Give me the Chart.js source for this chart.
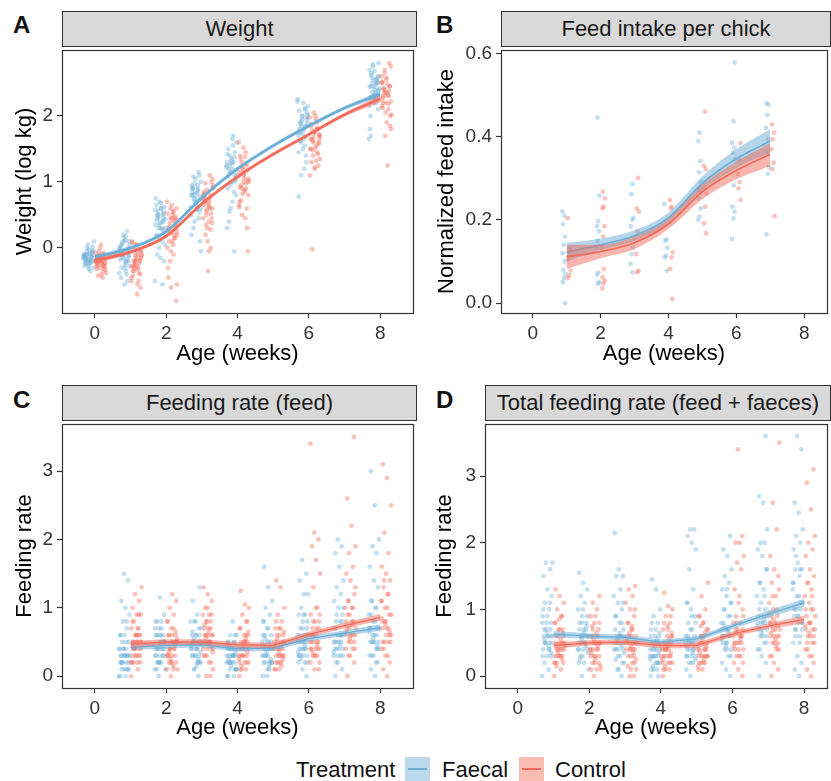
<!DOCTYPE html>
<html>
<head>
<meta charset="utf-8">
<script src="https://cdn.jsdelivr.net/npm/chart.js@4.4.0/dist/chart.umd.min.js"></script>
<style>
    body { margin: 0; background: #fff; font-family: "Liberation Sans", Arial, sans-serif; }
    #fig { position: relative; width: 831px; height: 781px; overflow: hidden; }
    .strip { position: absolute; box-sizing: border-box; background: #d9d9d9; border: 1px solid #333;
             font-size: 22px; line-height: 34px; color: #1a1a1a; text-align: center; white-space: nowrap; }
    .tag { position: absolute; font-weight: bold; font-size: 24px; line-height: 24px; color: #111; }
    canvas { position: absolute; }
    .leg { position: absolute; top: 757px; font-size: 22px; line-height: 26px; color: #111; }
    .key { position: absolute; top: 757px; width: 25px; height: 24px; }
    .key div { position: absolute; left: 3px; right: 3px; top: 11px; height: 2px; }
</style>
</head>
<body>
<div id="fig">
    <div class="tag" style="left:13px;top:13px">A</div>
    <div class="tag" style="left:436px;top:13px">B</div>
    <div class="tag" style="left:13px;top:388px">C</div>
    <div class="tag" style="left:436px;top:388px">D</div>

    <div class="strip" style="left:62px;top:11px;width:355px;height:36px">Weight</div>
    <div class="strip" style="left:501px;top:11px;width:330px;height:36px">Feed intake per chick</div>
    <div class="strip" style="left:62px;top:385px;width:355px;height:36px">Feeding rate (feed)</div>
    <div class="strip" style="left:485px;top:385px;width:346px;height:36px">Total feeding rate (feed + faeces)</div>

    <canvas id="weightChart" width="417" height="324" style="left:0;top:46px"></canvas>
    <canvas id="feedChart" width="411" height="324" style="left:420px;top:46px"></canvas>
    <canvas id="rateChart" width="417" height="324" style="left:0;top:420px"></canvas>
    <canvas id="totalChart" width="411" height="324" style="left:420px;top:420px"></canvas>

    <div class="leg" style="left:296px">Treatment</div>
    <div class="key" style="left:405px;background:rgba(107,174,214,0.45)"><div style="background:#6baed6"></div></div>
    <div class="leg" style="left:442px">Faecal</div>
    <div class="key" style="left:519px;background:rgba(242,107,91,0.45)"><div style="background:#f26b5b"></div></div>
    <div class="leg" style="left:555px">Control</div>
</div>

<script>
// ---- Panel A: weight (log kg), one list of birds per week ----
const weightWeeks = [0, 1, 2, 3, 4, 6, 8];
const weightFaecal = [
    [-0.15,-0.1,-0.2,-0.05,-0.25,-0.12,-0.18,0.0,-0.3,-0.08,-0.22,-0.14,0.05,-0.16,-0.35,-0.1,-0.2,-0.02,-0.27,-0.13,-0.06,0.1,-0.19,-0.24,-0.11,
     -0.17,-0.09,-0.21,-0.13,-0.04,-0.28,-0.16,-0.07,-0.19,-0.11,-0.23,-0.15,0.02,-0.32,-0.12],
    [-0.1,0.05,-0.2,-0.3,0.0,0.15,-0.05,-0.4,-0.15,0.1,-0.25,-0.1,-0.5,0.2,-0.02,-0.35,0.05,-0.12,-0.55,-0.18,0.25,-0.08,-0.28,0.12,-0.45,
     -0.06,-0.15,0.0,-0.22,0.08,-0.12,-0.3,0.03,-0.18,-0.04,-0.38,0.18,-0.1,-0.2,0.1],
    [0.4,0.5,0.3,0.6,0.2,0.45,0.7,0.35,0.1,0.55,0.25,-0.15,0.65,0.4,0.0,-0.5,0.3,0.5,-0.2,0.15,0.75,-0.55,0.45,0.05,0.6,
     0.42,0.52,0.35,0.58,0.28,0.48,0.62,0.38,0.18,0.5,0.3,0.44,0.68,-0.1,0.55],
    [0.8,0.9,0.7,1.0,0.6,0.85,1.1,0.75,0.5,0.95,0.3,0.1,0.65,0.8,1.15,0.4,-0.05,0.7,0.9,0.55,1.05,0.2,0.85,0.75,0.6,
     0.82,0.92,0.72,0.98,0.62,0.88,1.08,0.78,0.68,0.95,0.45,0.82,0.74,0.58,0.9],
    [1.15,1.3,1.0,1.4,0.8,1.2,1.5,1.1,0.6,1.25,1.7,0.4,1.05,1.35,0.9,-0.05,1.15,1.6,0.7,1.2,1.45,1.0,0.3,1.3,0.55,
     1.18,1.28,1.08,1.38,0.95,1.22,1.55,1.12,1.02,1.32,1.42,0.85,1.25,1.1,1.65],
    [1.85,2.0,1.7,2.1,1.6,1.9,2.2,1.8,1.4,1.95,2.25,1.2,1.75,2.05,1.5,0.78,1.85,1.1,2.15,1.65,1.9,1.3,2.0,1.75,1.55,
     1.88,1.98,1.78,2.08,1.68,1.92,2.22,1.82,1.62,1.95,1.72,1.45,2.12,1.85,2.02],
    [2.45,2.6,2.3,2.7,2.2,2.5,2.8,2.4,2.0,2.55,2.75,1.65,2.35,2.65,2.1,2.45,1.8,2.5,2.3,2.6,2.25,1.7,2.4,2.55,2.15,
     2.48,2.58,2.38,2.68,2.28,2.52,2.78,2.42,2.32,2.62,2.5,2.2,2.44,2.56,2.36]
];
const weightControl = [
    [-0.2,-0.25,-0.15,-0.3,-0.1,-0.22,-0.35,-0.05,-0.18,-0.4,-0.12,-0.28,0.0,-0.2,-0.45,-0.16,-0.24,0.05,-0.32,-0.08,-0.2,-0.38,-0.14,-0.26,-0.1,
     -0.22,-0.18,-0.27,-0.12,-0.33,-0.2,-0.24,-0.15,-0.3,-0.08,-0.19,-0.42,-0.23,-0.13,-0.28],
    [-0.2,-0.1,-0.3,0.0,-0.4,-0.15,0.1,-0.5,-0.25,-0.05,-0.7,-0.35,-0.2,0.05,-0.45,-0.1,-0.3,-0.6,-0.18,0.08,-0.38,-0.22,-0.12,-0.55,-0.28,
     -0.18,-0.08,-0.28,-0.02,-0.35,-0.15,0.05,-0.42,-0.24,-0.12,-0.5,-0.32,-0.2,-0.05,-0.27],
    [0.3,0.45,0.2,0.55,0.1,0.35,0.65,0.0,0.4,-0.2,0.25,0.5,-0.45,0.15,-0.6,0.7,-0.1,0.3,-0.8,0.45,-0.3,0.2,0.6,-0.55,0.05,
     0.32,0.42,0.22,0.52,0.15,0.38,0.6,0.1,0.28,0.48,-0.05,0.35,0.55,0.25,0.45],
    [0.65,0.8,0.5,0.9,0.4,0.7,1.0,0.3,0.75,1.1,0.2,0.6,-0.35,0.85,0.0,0.55,0.95,-0.05,0.7,0.45,0.1,0.8,0.6,0.35,1.05,
     0.62,0.78,0.52,0.88,0.45,0.72,0.98,0.38,0.68,0.82,0.28,0.58,0.92,0.65,0.75],
    [1.0,1.15,0.9,1.3,0.8,1.05,1.4,0.6,1.2,1.6,0.45,0.95,-0.05,1.1,0.7,1.25,0.5,1.0,0.85,1.35,0.3,1.15,0.65,1.45,0.9,
     1.02,1.12,0.92,1.28,0.82,1.08,1.38,0.72,1.18,1.52,0.62,0.98,1.22,1.05,0.88],
    [1.6,1.75,1.5,1.9,1.4,1.65,2.0,1.3,1.8,2.05,1.1,1.55,-0.02,1.7,1.2,1.85,1.45,1.6,1.35,1.95,1.65,1.25,1.75,1.5,1.8,
     1.62,1.72,1.52,1.88,1.42,1.68,1.98,1.32,1.78,1.58,1.22,1.65,1.82,1.48,1.7],
    [2.3,2.45,2.2,2.6,2.1,2.35,2.75,1.9,2.5,2.8,1.7,2.25,1.25,2.4,2.0,2.55,2.15,2.3,2.65,1.8,2.35,2.2,2.45,2.05,2.5,
     2.32,2.42,2.22,2.58,2.12,2.38,2.7,2.02,2.48,2.28,1.85,2.35,2.52,2.18,2.4]
];
const weightFitX = [0, 1, 2, 3, 4, 5, 6, 7, 8];
const weightFitFaecal = [-0.14, 0.0, 0.25, 0.76, 1.2, 1.55, 1.85, 2.12, 2.33];
const weightHiFaecal  = [-0.10, 0.03, 0.28, 0.79, 1.23, 1.58, 1.88, 2.15, 2.38];
const weightLoFaecal  = [-0.18, -0.03, 0.22, 0.73, 1.17, 1.52, 1.82, 2.09, 2.28];
const weightFitControl = [-0.19, -0.06, 0.18, 0.67, 1.08, 1.42, 1.72, 2.02, 2.26];
const weightHiControl  = [-0.15, -0.03, 0.21, 0.70, 1.11, 1.45, 1.75, 2.05, 2.31];
const weightLoControl  = [-0.23, -0.09, 0.15, 0.64, 1.05, 1.39, 1.69, 1.99, 2.21];
const weightTicks = [0, 1, 2];

// ---- Panel B: normalized feed intake per chick ----
const feedWeeks = [1, 2, 3, 4, 5, 6, 7];
const feedFaecal = [
    [0.22,0.21,0.19,0.16,0.14,0.12,0.10,0.08,0.07,0.06,0.05,0.0],
    [0.446,0.258,0.197,0.185,0.173,0.15,0.133,0.074,0.068,0.05,0.047],
    [0.286,0.262,0.205,0.2,0.185,0.133,0.118,0.094,0.074],
    [0.238,0.153,0.15,0.133,0.114,0.11,0.078],
    [0.41,0.39,0.342,0.315,0.292,0.272,0.252,0.228,0.208,0.2],
    [0.579,0.438,0.386,0.374,0.362,0.346,0.283,0.232,0.22,0.204,0.154],
    [0.481,0.477,0.453,0.421,0.394,0.362,0.327,0.311,0.165]
];
const feedControl = [
    [0.204,0.13,0.106,0.078,0.067,0.06],
    [0.268,0.252,0.232,0.228,0.185,0.16,0.133,0.082,0.062,0.054,0.047,0.035],
    [0.301,0.228,0.22,0.173,0.118,0.078,0.074],
    [0.248,0.232,0.228,0.122,0.11,0.082,0.01],
    [0.461,0.33,0.322,0.28,0.264,0.232,0.192,0.168],
    [0.385,0.346,0.31,0.291,0.276,0.248],
    [0.43,0.41,0.394,0.37,0.338,0.322,0.209]
];
const feedFitX = [1, 2, 3, 4, 5, 6, 7];
const feedFitFaecal = [0.122, 0.14, 0.162, 0.205, 0.288, 0.347, 0.39];
const feedHiFaecal  = [0.145, 0.155, 0.175, 0.218, 0.305, 0.37, 0.418];
const feedLoFaecal  = [0.10, 0.128, 0.150, 0.192, 0.272, 0.325, 0.362];
const feedFitControl = [0.111, 0.124, 0.145, 0.19, 0.268, 0.319, 0.358];
const feedHiControl  = [0.14, 0.14, 0.16, 0.203, 0.285, 0.34, 0.385];
const feedLoControl  = [0.082, 0.108, 0.13, 0.178, 0.25, 0.298, 0.33];
const feedTicks = [0, 0.2, 0.4, 0.6];

// ---- Panel C: feeding rate (feed) ----
const rateWeeks = [1, 2, 3, 4, 5, 6, 7, 8];
const rateFaecal = [
    [0,0,0.1,0.1,0.1,0.2,0.2,0.2,0.3,0.3,0.3,0.3,0.4,0.4,0.4,0.5,0.5,0.6,0.6,0.7,0.8,0.9,1.0,1.1,1.4,1.5,
     0,0.1,0.2,0.2,0.3,0.3,0.3,0.4,0.4,0.5,0.2,0.1,0.3,0.6,0.8],
    [0,0.1,0.2,0.2,0.3,0.3,0.4,0.4,0.4,0.5,0.5,0.6,0.6,0.7,0.7,0.8,0.8,0.9,1.15,0.3,0.5,0.2,0.4,0.6,0.1,0.5,
     0.2,0.3,0.4,0.4,0.5,0.5,0.6,0.3,0.2,0.1,0.7,0.4,0.5,0.6,0.8],
    [0,0.1,0.2,0.2,0.3,0.3,0.4,0.4,0.5,0.5,0.5,0.6,0.6,0.7,0.8,0.8,0.9,1.1,1.3,0.3,0.45,0.25,0.55,0.35,0.15,0.65,
     0.2,0.3,0.4,0.4,0.5,0.5,0.6,0.3,0.2,0.1,0.7,0.4,0.5,0.6,0.8],
    [0,0,0.1,0.1,0.2,0.2,0.2,0.3,0.3,0.3,0.4,0.4,0.4,0.5,0.5,0.6,0.6,0.8,0.25,0.35,0.15,0.45,0.3,0.2,0.1,0.4,
     0,0.1,0.2,0.2,0.3,0.3,0.3,0.4,0.4,0.5,0.2,0.1,0.3,0.5,0.6],
    [0,0,0.1,0.2,0.2,0.3,0.3,0.4,0.4,0.5,0.5,0.6,0.6,0.7,0.8,0.9,1.0,1.1,1.3,1.6,0.25,0.35,0.45,0.15,0.55,0.2,
     0.1,0.2,0.2,0.3,0.3,0.4,0.4,0.5,0.5,0.6,0.2,0.3,0.4,0.7,0.8],
    [0,0.1,0.2,0.2,0.3,0.3,0.4,0.4,0.5,0.5,0.6,0.6,0.7,0.7,0.8,0.9,0.9,1.0,1.2,1.2,1.4,1.5,1.7,0.35,0.45,0.25,
     0.2,0.3,0.3,0.4,0.4,0.5,0.5,0.6,0.6,0.7,0.3,0.4,0.5,0.8,0.9],
    [0,0.1,0.2,0.3,0.3,0.4,0.4,0.5,0.5,0.6,0.6,0.7,0.8,0.8,0.9,1.0,1.1,1.2,1.3,1.4,1.6,1.8,1.9,2.0,0.35,0.45,
     0.2,0.3,0.4,0.4,0.5,0.5,0.6,0.6,0.7,0.8,0.3,0.5,0.6,0.9,1.0],
    [0,0.1,0.2,0.3,0.3,0.4,0.5,0.5,0.6,0.7,0.7,0.8,0.9,1.0,1.1,1.3,1.4,1.6,1.8,1.9,2.0,2.5,3.0,0.45,0.55,0.65,
     0.2,0.3,0.4,0.5,0.5,0.6,0.6,0.7,0.8,0.9,0.4,0.5,0.7,1.0,1.1]
];
const rateControl = [
    [0,0.1,0.2,0.2,0.3,0.3,0.4,0.4,0.5,0.5,0.5,0.6,0.6,0.7,0.7,0.8,0.9,0.9,1.0,1.1,1.2,1.3,0.2,0.4,0.3,0.6,
     0.2,0.3,0.4,0.4,0.5,0.5,0.6,0.3,0.2,0.7,0.4,0.5,0.6,0.8,0.9],
    [0,0.1,0.1,0.2,0.2,0.3,0.3,0.4,0.4,0.5,0.5,0.6,0.6,0.7,0.8,0.9,1.0,1.1,1.2,0.3,0.45,0.25,0.55,0.15,0.35,0.65,
     0.2,0.3,0.4,0.4,0.5,0.5,0.6,0.3,0.2,0.1,0.7,0.4,0.5,0.6,0.8],
    [0,0,0.1,0.2,0.3,0.4,0.4,0.5,0.5,0.6,0.6,0.7,0.7,0.8,0.8,0.9,0.9,1.0,1.1,1.2,1.3,0.45,0.55,0.35,0.65,0.75,
     0.2,0.3,0.4,0.5,0.5,0.6,0.6,0.3,0.7,0.8,0.4,0.5,0.6,0.9,1.0],
    [0,0.1,0.1,0.2,0.2,0.3,0.3,0.4,0.4,0.5,0.5,0.6,0.6,0.7,0.8,0.9,1.0,1.05,1.25,0.35,0.45,0.25,0.55,0.15,0.65,0.3,
     0.1,0.2,0.3,0.3,0.4,0.4,0.5,0.5,0.2,0.6,0.3,0.4,0.5,0.7,0.8],
    [0.1,0.1,0.2,0.2,0.3,0.3,0.3,0.4,0.4,0.5,0.5,0.6,0.6,0.7,0.7,0.8,0.9,1.0,1.3,1.4,0.25,0.35,0.45,0.15,0.55,0.65,
     0.2,0.2,0.3,0.3,0.4,0.4,0.5,0.5,0.6,0.1,0.3,0.4,0.5,0.7,0.8],
    [0.1,0.1,0.2,0.3,0.3,0.4,0.4,0.5,0.5,0.6,0.6,0.7,0.7,0.8,0.8,0.9,1.0,1.3,1.5,1.7,1.9,2.0,2.1,3.4,0.45,0.35,
     0.2,0.3,0.4,0.4,0.5,0.5,0.6,0.6,0.7,0.3,0.4,0.5,0.8,0.9,1.0],
    [0,0.2,0.3,0.4,0.4,0.5,0.6,0.6,0.7,0.8,0.9,1.0,1.0,1.1,1.2,1.4,1.5,1.6,1.8,1.9,2.2,2.6,3.5,0.55,0.65,0.75,
     0.3,0.4,0.5,0.6,0.6,0.7,0.7,0.8,0.9,0.5,0.6,0.8,1.0,1.1,1.3],
    [0,0.1,0.2,0.3,0.4,0.5,0.5,0.6,0.7,0.8,0.9,1.0,1.1,1.2,1.3,1.4,1.5,1.6,1.8,2.1,2.5,2.9,3.1,0.65,0.75,0.85,
     0.3,0.4,0.5,0.6,0.7,0.7,0.8,0.9,1.0,0.5,0.6,0.8,1.1,1.2,1.4]
];
const rateFitX = [1, 2, 3, 4, 5, 6, 7, 8];
const rateFitFaecal = [0.42, 0.45, 0.46, 0.40, 0.41, 0.55, 0.63, 0.71];
const rateHiFaecal  = [0.46, 0.49, 0.50, 0.44, 0.45, 0.59, 0.67, 0.76];
const rateLoFaecal  = [0.38, 0.41, 0.42, 0.36, 0.37, 0.51, 0.59, 0.66];
const rateFitControl = [0.47, 0.50, 0.50, 0.46, 0.45, 0.61, 0.74, 0.86];
const rateHiControl  = [0.52, 0.54, 0.54, 0.50, 0.49, 0.65, 0.78, 0.91];
const rateLoControl  = [0.42, 0.46, 0.46, 0.42, 0.41, 0.57, 0.70, 0.81];
const rateTicks = [0, 1, 2, 3];

// ---- Panel D: total feeding rate (feed + faeces) ----
const totalWeeks = [1, 2, 3, 4, 5, 6, 7, 8];
const totalFaecal = [
    [0,0.1,0.2,0.3,0.3,0.4,0.5,0.5,0.6,0.6,0.7,0.8,0.8,0.9,1.0,1.1,1.2,1.3,1.5,1.6,1.7,1.7,0.45,0.55,0.35,0.65,
     0.3,0.4,0.5,0.5,0.6,0.6,0.7,0.7,0.8,0.4,0.5,0.6,0.9,1.0,1.1],
    [0,0.1,0.2,0.3,0.4,0.4,0.5,0.5,0.6,0.6,0.7,0.8,0.8,0.9,1.0,1.1,1.2,1.3,1.4,1.55,0.45,0.55,0.35,0.65,0.25,0.75,
     0.3,0.4,0.5,0.5,0.6,0.6,0.7,0.7,0.8,0.4,0.5,0.6,0.9,1.0,0.2],
    [0,0.1,0.2,0.3,0.4,0.4,0.5,0.5,0.6,0.6,0.7,0.8,0.9,1.0,1.1,1.2,1.3,1.5,1.5,1.6,2.15,0.45,0.55,0.35,0.65,0.25,
     0.2,0.3,0.4,0.5,0.5,0.6,0.6,0.7,0.8,0.4,0.5,0.6,0.9,1.1,0.1],
    [0,0.1,0.1,0.2,0.2,0.3,0.3,0.4,0.4,0.5,0.5,0.6,0.6,0.7,0.8,0.9,1.0,1.3,1.45,0.35,0.45,0.25,0.55,0.15,0.65,0.3,
     0.1,0.2,0.3,0.3,0.4,0.4,0.5,0.5,0.6,0.2,0.3,0.4,0.7,0.8,0.0],
    [0,0.1,0.2,0.2,0.3,0.3,0.4,0.5,0.5,0.6,0.7,0.8,0.9,1.0,1.1,1.3,1.6,1.9,2.0,2.1,2.2,2.2,0.45,0.35,0.55,0.25,
     0.2,0.3,0.4,0.4,0.5,0.5,0.6,0.6,0.7,0.3,0.4,0.5,0.8,0.9,1.1],
    [0,0.1,0.2,0.3,0.4,0.4,0.5,0.6,0.6,0.7,0.8,0.9,1.0,1.1,1.2,1.3,1.4,1.5,1.6,1.8,1.9,2.1,0.45,0.55,0.65,0.75,
     0.3,0.4,0.5,0.6,0.6,0.7,0.7,0.8,0.9,0.5,0.6,0.7,1.0,1.1,1.3],
    [0,0.2,0.3,0.4,0.5,0.6,0.7,0.8,0.9,1.0,1.1,1.2,1.3,1.4,1.6,1.8,1.9,2.0,2.0,2.2,2.6,2.7,3.6,0.65,0.75,0.85,
     0.4,0.5,0.6,0.7,0.8,0.8,0.9,0.9,1.0,0.6,0.7,0.8,1.2,1.4,1.6],
    [0,0.1,0.2,0.3,0.5,0.6,0.7,0.8,0.9,1.0,1.1,1.2,1.4,1.5,1.6,1.6,1.7,1.9,2.0,2.1,2.2,2.45,2.6,3.4,3.6,1.3,
     0.5,0.6,0.7,0.8,0.9,1.0,1.0,1.1,1.2,0.7,0.8,0.9,1.4,1.6,1.8]
];
const totalControl = [
    [0,0.1,0.2,0.2,0.3,0.3,0.4,0.4,0.5,0.5,0.6,0.7,0.7,0.8,0.9,1.0,1.1,1.2,1.3,0.25,0.35,0.45,0.55,0.15,0.65,0.85,
     0.2,0.3,0.3,0.4,0.4,0.5,0.5,0.6,0.2,0.3,0.4,0.6,0.7,0.8,0.9],
    [0,0.1,0.1,0.2,0.3,0.3,0.4,0.4,0.5,0.5,0.6,0.6,0.7,0.8,0.9,1.0,1.1,1.2,0.25,0.35,0.45,0.55,0.15,0.65,0.75,0.2,
     0.2,0.3,0.4,0.4,0.5,0.5,0.6,0.6,0.3,0.4,0.5,0.7,0.8,0.9,0.1],
    [0,0,0.1,0.2,0.3,0.4,0.4,0.5,0.5,0.6,0.6,0.7,0.8,0.9,1.0,1.1,1.2,1.3,1.35,0.45,0.55,0.35,0.65,0.25,0.75,0.15,
     0.2,0.3,0.4,0.4,0.5,0.5,0.6,0.6,0.3,0.4,0.5,0.7,0.8,1.0,0.1],
    [0,0.1,0.1,0.2,0.2,0.3,0.3,0.4,0.4,0.5,0.5,0.6,0.6,0.7,0.8,0.9,1.0,1.05,1.25,0.35,0.45,0.25,0.55,0.15,0.65,0.75,
     0.1,0.2,0.3,0.3,0.4,0.4,0.5,0.5,0.2,0.3,0.4,0.6,0.7,0.8,0.9],
    [0.1,0.1,0.2,0.2,0.3,0.3,0.4,0.4,0.5,0.5,0.6,0.6,0.7,0.8,0.9,1.0,1.2,1.4,0.25,0.35,0.45,0.55,0.15,0.65,0.75,0.3,
     0.2,0.2,0.3,0.3,0.4,0.4,0.5,0.5,0.6,0.3,0.4,0.6,0.7,0.8,0.9],
    [0,0.1,0.2,0.3,0.3,0.4,0.5,0.5,0.6,0.7,0.8,0.8,0.9,1.0,1.1,1.3,1.6,1.7,1.8,2.0,2.0,2.1,3.4,0.45,0.55,0.65,
     0.2,0.3,0.4,0.5,0.5,0.6,0.6,0.7,0.7,0.4,0.5,0.6,0.8,0.9,1.2],
    [0,0.1,0.2,0.3,0.4,0.5,0.6,0.7,0.8,0.9,1.0,1.1,1.2,1.4,1.5,1.6,1.8,2.2,2.6,3.5,0.55,0.65,0.75,0.85,0.95,0.45,
     0.3,0.4,0.5,0.6,0.6,0.7,0.7,0.8,0.9,0.5,0.6,0.8,1.0,1.2,1.3],
    [0,0.1,0.2,0.3,0.4,0.5,0.6,0.7,0.8,0.9,1.0,1.1,1.2,1.3,1.4,1.5,1.6,1.8,1.9,2.0,2.1,2.5,2.9,3.1,0.65,0.75,
     0.3,0.4,0.5,0.6,0.7,0.7,0.8,0.9,1.0,0.5,0.6,0.8,1.0,1.2,1.4]
];
const totalFitX = [1, 2, 3, 4, 5, 6, 7, 8];
const totalFitFaecal = [0.63, 0.60, 0.58, 0.51, 0.56, 0.75, 0.93, 1.10];
const totalHiFaecal  = [0.68, 0.64, 0.62, 0.55, 0.60, 0.79, 0.98, 1.16];
const totalLoFaecal  = [0.58, 0.56, 0.54, 0.47, 0.52, 0.71, 0.88, 1.04];
const totalFitControl = [0.46, 0.50, 0.51, 0.46, 0.46, 0.63, 0.75, 0.85];
const totalHiControl  = [0.51, 0.54, 0.55, 0.50, 0.50, 0.67, 0.79, 0.91];
const totalLoControl  = [0.41, 0.46, 0.47, 0.42, 0.42, 0.59, 0.71, 0.79];
const totalTicks = [0, 1, 2, 3];

const ageTicks = [0, 2, 4, 6, 8];

// Colours
const BLUE = '#6baed6';
const RED = '#f26b5b';
const BLUE_PT = 'rgba(107,174,214,0.4)';
const RED_PT = 'rgba(242,107,91,0.4)';
const BLUE_BAND = 'rgba(107,174,214,0.5)';
const RED_BAND = 'rgba(242,107,91,0.5)';

Chart.defaults.font.family = '"Liberation Sans", Arial, sans-serif';

// Dodge each group left/right of its week and spread the birds a little (jitter)
function jitter(weeks, lists, shift, spread) {
    const pts = [];
    weeks.forEach((w, k) => {
        lists[k].forEach((v, i) => {
            const j = ((i * 0.6180339 + k * 0.37) % 1) - 0.5;
            pts.push({ x: w + shift + j * 2 * spread, y: v });
        });
    });
    return pts;
}

function xy(xs, ys) {
    return xs.map((x, i) => ({ x: x, y: ys[i] }));
}

// Box around the plotting area (ggplot panel border)
const panelBorder = {
    id: 'panelBorder',
    afterDraw(chart) {
        const a = chart.chartArea;
        const ctx = chart.ctx;
        ctx.save();
        ctx.strokeStyle = '#333';
        ctx.lineWidth = 1.2;
        ctx.strokeRect(Math.round(a.left) + 0.5, Math.round(a.top) + 0.5,
            Math.round(a.right - a.left), Math.round(a.bottom - a.top));
        ctx.restore();
    }
};

function makePanel(id, p) {
    const smooth = p.smooth ? { tension: 0.4, cubicInterpolationMode: 'monotone' } : { tension: 0 };
    const band = (ys, color, order) => Object.assign({
        type: 'scatter', data: xy(p.fitX, ys), showLine: true, pointRadius: 0,
        borderWidth: 0, backgroundColor: color, order: order
    }, smooth);

    const datasets = [
        { type: 'scatter', data: jitter(p.weeks, p.faecal, -p.dodge, p.spread), pointRadius: 2.4,
          pointBorderWidth: 0, backgroundColor: BLUE_PT, order: 60 },
        { type: 'scatter', data: jitter(p.weeks, p.control, p.dodge, p.spread), pointRadius: 2.4,
          pointBorderWidth: 0, backgroundColor: RED_PT, order: 50 },
        Object.assign(band(p.hiF, BLUE_BAND, 40), { fill: '+1' }),
        Object.assign(band(p.loF, BLUE_BAND, 40), { fill: false }),
        Object.assign({ type: 'scatter', data: xy(p.fitX, p.fitF), showLine: true, pointRadius: 0,
          borderColor: BLUE, borderWidth: p.lineWidth, order: 30 }, smooth),
        Object.assign(band(p.hiC, RED_BAND, 20), { fill: '+1' }),
        Object.assign(band(p.loC, RED_BAND, 20), { fill: false }),
        Object.assign({ type: 'scatter', data: xy(p.fitX, p.fitC), showLine: true, pointRadius: 0,
          borderColor: RED, borderWidth: p.lineWidth, order: 10 }, smooth)
    ];

    new Chart(document.getElementById(id), {
        type: 'scatter',
        data: { datasets: datasets },
        options: {
            animation: false,
            responsive: false,
            layout: { padding: { top: 0, right: 1, bottom: 0, left: 0 } },
            plugins: { legend: { display: false }, tooltip: { enabled: false } },
            scales: {
                x: {
                    type: 'linear', min: p.xMin, max: p.xMax,
                    afterBuildTicks: axis => { axis.ticks = ageTicks.map(v => ({ value: v })); },
                    afterFit: s => { s.height = p.xHeight; s.paddingLeft = 0; s.paddingRight = 0; },
                    grid: { drawOnChartArea: false, drawTicks: true, tickLength: 5, tickColor: '#333', tickWidth: 1.2 },
                    border: { display: false },
                    ticks: { color: '#333', font: { size: 19 }, padding: 4, maxRotation: 0, autoSkip: false },
                    title: { display: true, text: 'Age (weeks)', color: '#000', font: { size: 22 },
                             padding: { top: 0, bottom: 3 } }
                },
                y: {
                    type: 'linear', min: p.yMin, max: p.yMax,
                    afterBuildTicks: axis => { axis.ticks = p.yTicks.map(v => ({ value: v })); },
                    afterFit: s => { s.width = p.yWidth; s.paddingTop = 0; s.paddingBottom = 0; },
                    grid: { drawOnChartArea: false, drawTicks: true, tickLength: 5, tickColor: '#333', tickWidth: 1.2 },
                    border: { display: false },
                    ticks: { color: '#333', font: { size: 19 }, padding: 4, autoSkip: false,
                             callback: v => p.decimals ? v.toFixed(p.decimals) : String(v) },
                    title: { display: true, text: p.yTitle, color: '#000', font: { size: 22 },
                             padding: { top: p.titlePad, bottom: 0 } }
                }
            }
        },
        plugins: [panelBorder]
    });
}

document.addEventListener('DOMContentLoaded', function() {
    makePanel('weightChart', {
        weeks: weightWeeks, faecal: weightFaecal, control: weightControl, dodge: 0.17, spread: 0.15,
        fitX: weightFitX, fitF: weightFitFaecal, hiF: weightHiFaecal, loF: weightLoFaecal,
        fitC: weightFitControl, hiC: weightHiControl, loC: weightLoControl,
        smooth: true, lineWidth: 2.5, xMin: -0.92, xMax: 8.92, yMin: -0.985, yMax: 3.0,
        yTicks: weightTicks, decimals: 0, yTitle: 'Weight (log kg)', yWidth: 62, xHeight: 57, titlePad: 12
    });
    makePanel('feedChart', {
        weeks: feedWeeks, faecal: feedFaecal, control: feedControl, dodge: 0.08, spread: 0.05,
        fitX: feedFitX, fitF: feedFitFaecal, hiF: feedHiFaecal, loF: feedLoFaecal,
        fitC: feedFitControl, hiC: feedHiControl, loC: feedLoControl,
        smooth: true, lineWidth: 1.8, xMin: -0.934, xMax: 8.672, yMin: -0.024, yMax: 0.609,
        yTicks: feedTicks, decimals: 1, yTitle: 'Normalized feed intake', yWidth: 81, xHeight: 57, titlePad: 14
    });
    makePanel('rateChart', {
        weeks: rateWeeks, faecal: rateFaecal, control: rateControl, dodge: 0.17, spread: 0.15,
        fitX: rateFitX, fitF: rateFitFaecal, hiF: rateHiFaecal, loF: rateLoFaecal,
        fitC: rateFitControl, hiC: rateHiControl, loC: rateLoControl,
        smooth: false, lineWidth: 1.3, xMin: -0.92, xMax: 8.92, yMin: -0.173, yMax: 3.69,
        yTicks: rateTicks, decimals: 0, yTitle: 'Feeding rate', yWidth: 62, xHeight: 56, titlePad: 12
    });
    makePanel('totalChart', {
        weeks: totalWeeks, faecal: totalFaecal, control: totalControl, dodge: 0.17, spread: 0.15,
        fitX: totalFitX, fitF: totalFitFaecal, hiF: totalHiFaecal, loF: totalLoFaecal,
        fitC: totalFitControl, hiC: totalHiControl, loC: totalLoControl,
        smooth: false, lineWidth: 1.3, xMin: -0.914, xMax: 8.64, yMin: -0.177, yMax: 3.78,
        yTicks: totalTicks, decimals: 0, yTitle: 'Feeding rate', yWidth: 65, xHeight: 56, titlePad: 12
    });
});
</script>
</body>
</html>
